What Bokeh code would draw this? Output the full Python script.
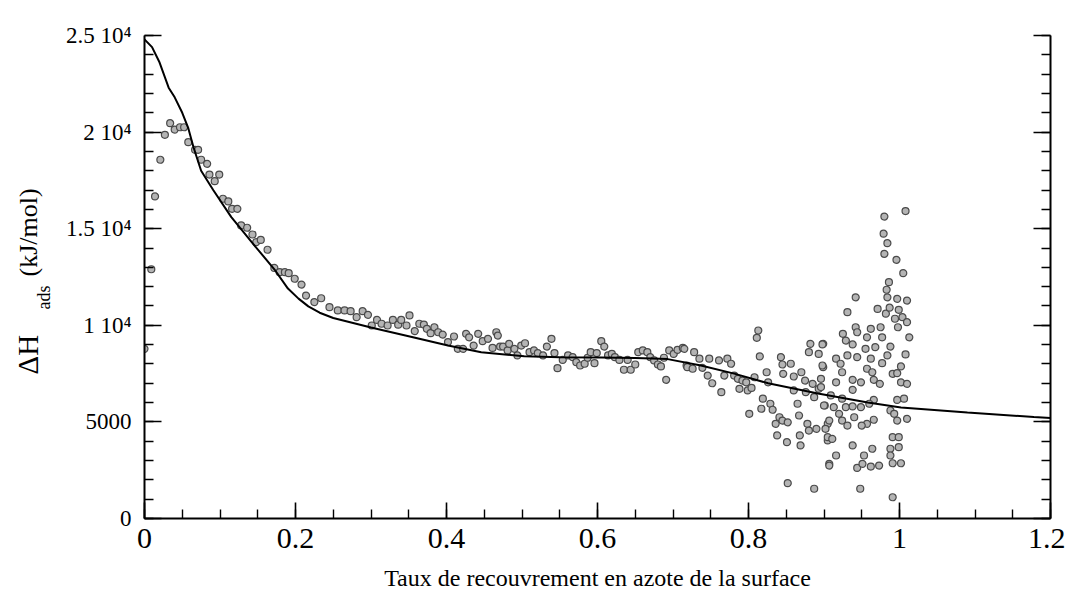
import numpy as np
from bokeh.plotting import figure
from bokeh.layouts import row
from bokeh.models import Range1d, LinearAxis, FixedTicker, Label, ColumnDataSource
from bokeh.embed import file_html
from bokeh.resources import INLINE

# ---------------- data ----------------
curve_x = [0, 0.01, 0.02, 0.032, 0.04, 0.05, 0.058, 0.065, 0.075, 0.091, 0.115, 0.142, 0.172, 0.19,
           0.204, 0.217, 0.232, 0.25, 0.3, 0.357, 0.402, 0.446, 0.503, 0.55, 0.605, 0.65, 0.693, 0.737,
           0.781, 0.826, 0.892, 0.958, 1.002, 1.09, 1.178, 1.2]
curve_y = [24800, 24400, 23600, 22300, 21800, 21000, 20200, 19200, 18000, 17000, 15600, 14300, 12900,
           11900, 11380, 10980, 10650, 10380, 9890, 9370, 8950, 8600, 8400, 8350, 8330, 8310, 8250, 7920,
           7500, 7000, 6470, 6000, 5750, 5490, 5250, 5200]

pts_x = [
    0.0, 0.009, 0.014, 0.021, 0.027, 0.034, 0.040, 0.047, 0.0525, 0.058, 0.067, 0.071, 0.075, 0.083,
    0.086, 0.099, 0.093, 0.104, 0.111, 0.116, 0.123, 0.128, 0.136, 0.143, 0.148, 0.154, 0.163, 0.172,
    0.179, 0.186, 0.191, 0.199, 0.208,
    0.214, 0.225, 0.234, 0.245, 0.256, 0.265, 0.273, 0.281, 0.289, 0.296, 0.301, 0.308, 0.314, 0.322,
    0.329, 0.336, 0.340, 0.347, 0.351, 0.358, 0.364, 0.370, 0.374, 0.379, 0.384, 0.389, 0.395, 0.402,
    0.410, 0.415, 0.422, 0.426, 0.430, 0.436, 0.442, 0.448, 0.455, 0.461, 0.466, 0.471,
    0.468, 0.475, 0.481, 0.483, 0.490, 0.494, 0.499, 0.504, 0.510, 0.516, 0.521, 0.528, 0.533, 0.539,
    0.543, 0.547, 0.554, 0.561, 0.567, 0.572, 0.577, 0.583, 0.587, 0.591, 0.596, 0.599, 0.605, 0.609,
    0.614, 0.619, 0.623, 0.629, 0.635, 0.640, 0.644, 0.650, 0.654, 0.660, 0.666, 0.670, 0.675, 0.680,
    0.684, 0.688, 0.691, 0.695, 0.701, 0.706, 0.713, 0.718,
    0.715, 0.728, 0.719, 0.726, 0.735, 0.739, 0.746, 0.752, 0.748, 0.761, 0.764, 0.768, 0.772, 0.777,
    0.781, 0.786, 0.788, 0.792, 0.797, 0.799, 0.804, 0.808, 0.813, 0.811, 0.815, 0.819, 0.817, 0.824,
    0.826, 0.829, 0.832, 0.801, 0.843, 0.845, 0.846, 0.841, 0.836, 0.838, 0.845, 0.852, 0.851, 0.856,
    0.860, 0.860, 0.865, 0.867, 0.868, 0.869, 0.870, 0.875, 0.876, 0.878, 0.880, 0.882, 0.880, 0.885,
    0.887, 0.890, 0.893, 0.899, 0.899, 0.896, 0.893, 0.901, 0.905, 0.905, 0.907, 0.852, 0.887,
    0.980, 1.008, 0.979, 0.984, 0.980, 0.996, 1.005, 0.986, 0.983, 0.942, 0.984, 0.997, 1.010, 0.931,
    0.971, 0.982, 0.987, 0.999, 0.994, 1.004, 1.010, 0.998, 0.942, 0.925, 0.944, 0.962, 0.975, 0.977,
    1.013, 0.957, 0.929, 0.938, 0.898, 0.968, 0.988, 0.955, 1.008, 0.984, 0.916, 0.931, 0.944, 0.962,
    0.977, 0.922, 1.002, 0.898, 0.957, 0.924, 0.964, 0.991, 0.997, 0.916, 0.938, 0.949, 0.966, 0.974,
    1.002, 1.010, 0.896, 0.938, 0.909, 0.924, 0.966, 0.997, 1.006, 0.900, 0.913, 0.929, 0.938, 0.949,
    0.960, 0.988, 0.993, 0.920, 0.907, 0.924, 0.940, 0.957, 0.966, 0.997, 1.010, 0.902, 0.931, 0.950,
    0.905, 0.911, 0.938, 0.964, 0.991, 0.999, 0.988, 0.999, 0.916, 0.953, 0.988, 0.907, 0.944, 0.951,
    0.962, 0.973, 0.991, 1.002, 0.948, 0.991,
]
pts_y = [
    8780, 12900, 16670, 18570, 19860, 20460, 20130, 20250, 20250, 19480, 19080, 19080, 18570, 18360,
    17800, 17800, 17460, 16550, 16410, 16030, 16030, 15170, 15050, 14700, 14300, 14420, 13910, 12970,
    12750, 12750, 12700, 12410, 12110,
    11540, 11200, 11400, 10940, 10770, 10770, 10730, 10420, 10730, 10540, 9990, 10280, 10080, 9990,
    10280, 10030, 10280, 9990, 10510, 9700, 10080, 10040, 9820, 9590, 9900, 9640, 9520, 9130,
    9420, 8780, 8780, 9560, 9380, 8950, 9560, 9180, 9300, 8830, 9640, 8900,
    9470, 8900, 8700, 9040, 8780, 8440, 8950, 9070, 8610, 8700, 8560, 8440, 8900, 9300,
    8560, 7780, 8210, 8440, 8350, 8090, 7920, 8010, 8320, 8610, 8040, 8560, 9180, 8900,
    8440, 8520, 8350, 8210, 7700, 8210, 7700, 7970, 8610, 8700, 8610, 8350, 8180, 7970,
    7870, 8320, 7180, 8700, 8520, 8730, 8830, 7920,
    8780, 8610, 7830, 7750, 8270, 7800, 7400, 7000, 8270, 8180, 6540, 7400, 8270, 8010,
    7400, 7230, 6710, 7140, 7050, 6630, 6760, 7310, 9730, 9350, 8390, 6200, 5680, 7570,
    7050, 5940, 5630, 5420, 8350, 7970, 7490, 5240, 4900, 4300, 5070, 4980, 3950, 8010,
    7350, 6630, 5940, 5330, 4300, 3780, 7570, 7140, 6540, 4900, 4550, 9040, 8610, 6970,
    6280, 4640, 8520, 9040, 7830, 7230, 6710, 5850, 4900, 4040, 2830, 1830, 1540,
    15630, 15910, 14740, 14250, 13700, 13390, 12700, 12230, 11840, 11450, 11450, 11370, 11280, 10680,
    10850, 10600, 10910, 10800, 10340, 10420, 10160, 9900, 9900, 9560, 9640, 9820, 9900, 9380,
    9380, 9380, 9210, 9010, 9010, 8870, 8900, 8780, 8490, 8440, 8270, 8440, 8350, 8270,
    8040, 8010, 7870, 7920, 7750, 7570, 7570, 7490, 7520, 7050, 7180, 7050, 7180, 6970,
    7050, 6970, 6800, 6660, 6370, 6200, 6140, 6140, 6200, 5850, 5760, 5760, 5800, 5760,
    5940, 5590, 5420, 5420, 5070, 5070, 5240, 4900, 5110, 5070, 5160, 4640, 4810, 4810,
    4210, 4120, 3780, 3610, 4210, 4210, 3610, 3690, 3260, 3260, 3260, 2740, 2620, 2830,
    2690, 2740, 2860, 2860, 1540, 1100,
]

x_ticks = [0, 0.2, 0.4, 0.6, 0.8, 1, 1.2]
x_tick_labels = ["0", "0.2", "0.4", "0.6", "0.8", "1", "1.2"]
y_ticks = [0, 5000, 10000, 15000, 20000, 25000]
y_tick_labels = ["0", "5000", "1 10\u2074", "1.5 10\u2074", "2 10\u2074", "2.5 10\u2074"]

x_title = "Taux de recouvrement en azote de la surface"
y_title_parts = ["\u0394H", "ads", "(kJ/mol)"]

# ---------------- layout ----------------
FONT = "Liberation Serif"
H = 596
FRAME_TOP, FRAME_BOTTOM = 35, 518      # pixel rows of the plotting frame
LW = 62                                # width of the strip holding the y-axis title
W = 1065 - LW

# strip with the rotated y-axis title; its frame is aligned with the main one,
# so its y range is expressed in page pixels measured from the bottom
t = figure(width=LW, height=H, output_backend="svg", toolbar_location=None,
           x_range=Range1d(0, LW), y_range=Range1d(H - FRAME_BOTTOM, H - FRAME_TOP),
           min_border_left=0, min_border_right=0,
           min_border_top=FRAME_TOP, min_border_bottom=H - FRAME_BOTTOM)
t.axis.visible = False
t.grid.visible = False
t.outline_line_color = None
t.background_fill_color = "white"
t.border_fill_color = "white"
lab_kw = dict(angle=np.pi / 2, text_font=FONT, text_color="black",
              text_baseline="alphabetic", text_align="left")
t.add_layout(Label(x=27, y=H - 374, text=y_title_parts[0], text_font_size="29px", **lab_kw))
t.add_layout(Label(x=43, y=H - 309, text=y_title_parts[1], text_font_size="18px", **lab_kw))
t.add_layout(Label(x=28, y=H - 276, text=y_title_parts[2], text_font_size="26px", **lab_kw))

# main plot
p = figure(width=W, height=H, output_backend="svg", toolbar_location=None,
           x_range=Range1d(0, 1.2), y_range=Range1d(0, 25000),
           min_border_left=143 - LW, min_border_right=15,
           min_border_top=FRAME_TOP, min_border_bottom=H - FRAME_BOTTOM)
p.outline_line_color = None
p.grid.visible = False
p.background_fill_color = "white"
p.border_fill_color = "white"

x_minor = [round(v, 2) for v in np.arange(0, 1.2001, 0.05)]
y_minor = [int(v) for v in np.arange(0, 25001, 1000)]

def style_axis(ax, ticks, minor, labels_map, font_size, standoff):
    ax.ticker = FixedTicker(ticks=ticks, minor_ticks=minor)
    ax.major_label_overrides = labels_map
    ax.axis_line_width = 2
    ax.axis_line_color = "black"
    ax.major_tick_line_width = 1.6
    ax.minor_tick_line_width = 1.4
    ax.major_tick_line_color = "black"
    ax.minor_tick_line_color = "black"
    ax.major_tick_in = 17
    ax.major_tick_out = 0
    ax.minor_tick_in = 9
    ax.minor_tick_out = 0
    ax.major_label_text_font = FONT
    ax.major_label_text_font_size = font_size
    ax.major_label_text_color = "black"
    ax.major_label_standoff = standoff

style_axis(p.xaxis[0], x_ticks, x_minor, dict(zip(x_ticks, x_tick_labels)), "30px", 10)
style_axis(p.yaxis[0], y_ticks, y_minor, dict(zip(y_ticks, y_tick_labels)), "23px", 13)
p.xaxis[0].major_tick_in = 16

p.xaxis.axis_label = x_title
p.xaxis.axis_label_text_font = FONT
p.xaxis.axis_label_text_font_size = "24px"
p.xaxis.axis_label_text_font_style = "normal"
p.xaxis.axis_label_text_color = "black"
p.xaxis.axis_label_standoff = 14

ax_r = LinearAxis()
style_axis(ax_r, y_ticks, y_minor, {tk: "" for tk in y_ticks}, "1px", 0)
p.add_layout(ax_r, "right")

src_pts = ColumnDataSource(dict(x=pts_x, y=pts_y))
p.scatter("x", "y", source=src_pts, size=7, marker="circle",
          fill_color="#b4b4b4", line_color="#4a4a4a", line_width=1.2)
src_curve = ColumnDataSource(dict(x=curve_x, y=curve_y))
p.line("x", "y", source=src_curve, line_color="black", line_width=2)

layout = row(t, p, spacing=0)
open("out.html", "w").write(file_html(layout, INLINE))
